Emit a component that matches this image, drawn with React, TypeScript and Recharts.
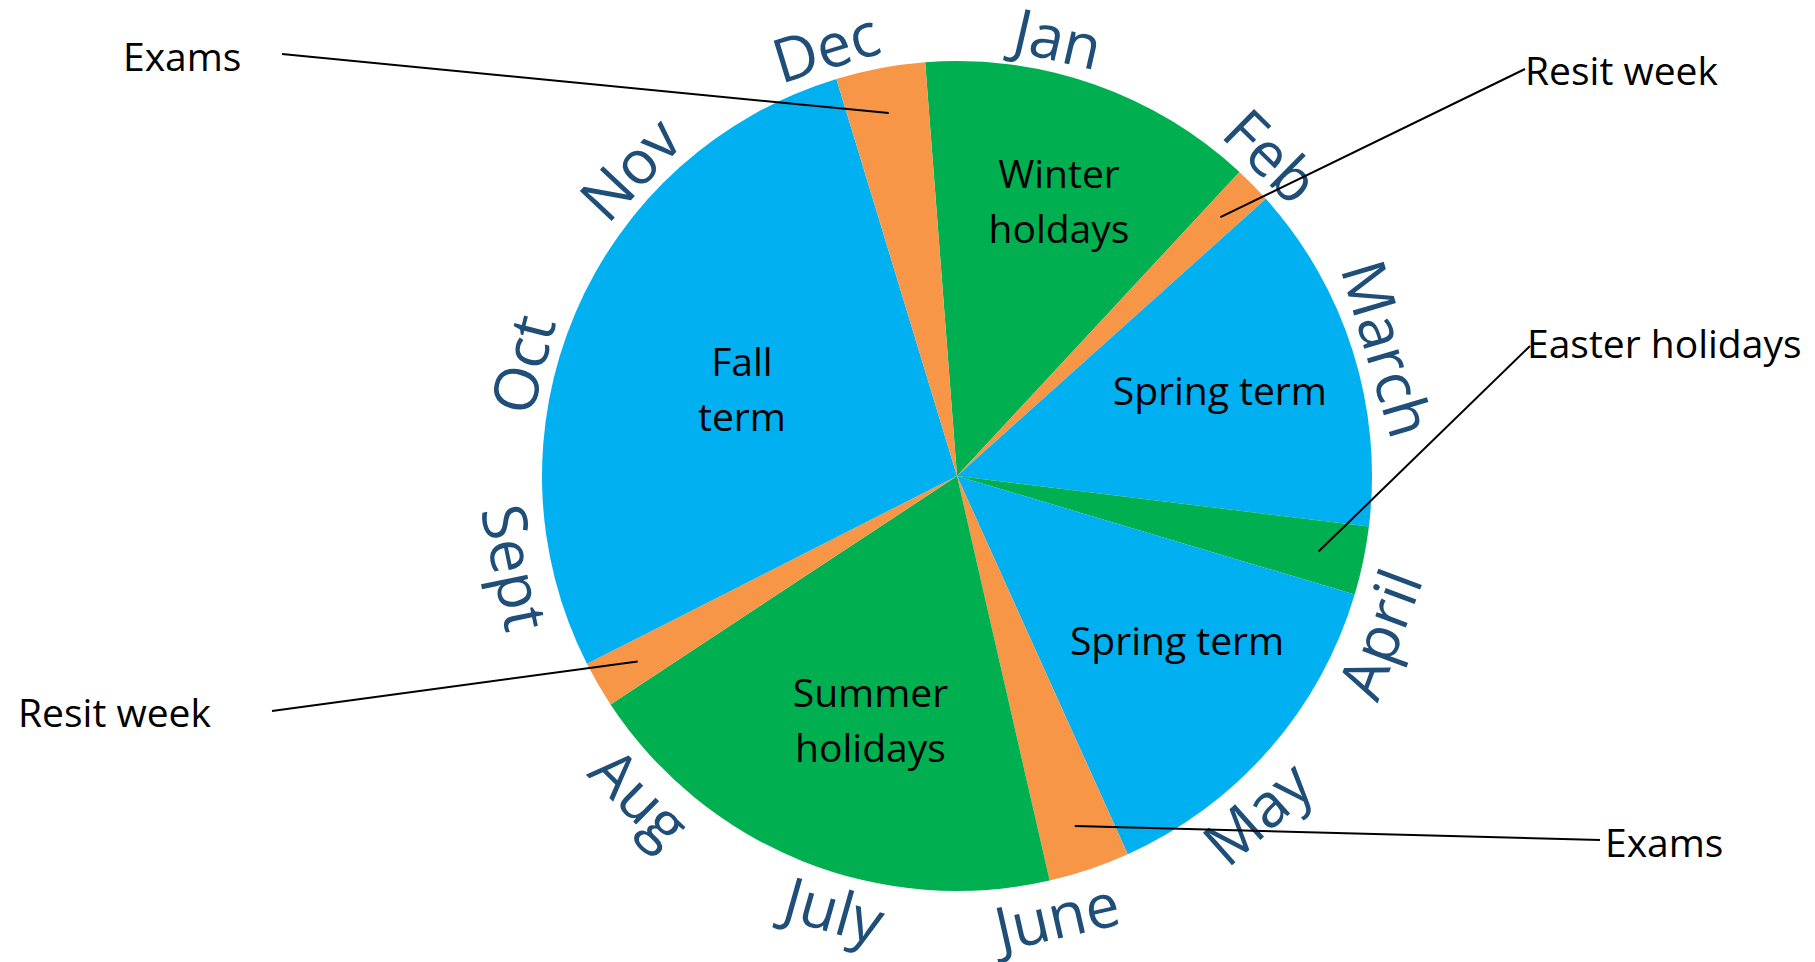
import { PieChart, Pie, Cell } from "recharts";

// academic year segments, clockwise from just left of 12 o'clock (values in degrees of the year)
const segmentNames = [
  "Winter holdays",
  "Resit week",
  "Spring term",
  "Easter holidays",
  "Spring term",
  "Exams",
  "Summer holidays",
  "Resit week",
  "Fall term",
  "Exams",
];
const segmentSpans = [47.3, 5.2, 48.9, 9.6, 49.1, 11.4, 69.5, 6.5, 100, 12.5];
const segmentKinds = ["holiday", "exam", "term", "holiday", "term", "exam", "holiday", "exam", "term", "exam"];

const months = ["Jan", "Feb", "March", "April", "May", "June", "July", "Aug", "Sept", "Oct", "Nov", "Dec"];
// where each month name sits, degrees clockwise from 12 o'clock
const monthAngles = [13, 44.5, 73.5, 110.5, 138.3, 167.2, 195.8, 224.6, 258.3, 284.4, 313.2, 343];

const data = segmentNames.map((name, i) => ({ name, value: segmentSpans[i], kind: segmentKinds[i] }));

const kindColor: Record<string, string> = {
  term: "#00B0F0",
  holiday: "#00B050",
  exam: "#F79646",
};

const CX = 957;
const CY = 476;
const R = 415;
const RADIAN = Math.PI / 180;
const FONT = "'Open Sans', sans-serif";

// labels drawn inside the big slices (r = fraction of radius, da = nudge in degrees clockwise)
const inside: Record<number, { r: number; da: number; lines: string[] }> = {
  0: { r: 0.71, da: 1, lines: ["Winter", "holdays"] },
  2: { r: 0.667, da: -0.8, lines: ["Spring term"] },
  4: { r: 0.66, da: -4.6, lines: ["Spring term"] },
  6: { r: 0.62, da: -2.2, lines: ["Summer", "holidays"] },
  8: { r: 0.56, da: -0.8, lines: ["Fall", "term"] },
};

// callouts for the thin slices: text baseline start and far end of the leader line
const callouts: Record<number, { x: number; y: number; lx: number; ly: number }> = {
  9: { x: 123, y: 71, lx: 282, ly: 54 },
  1: { x: 1525, y: 85, lx: 1525, ly: 69 },
  3: { x: 1527, y: 358, lx: 1530, ly: 346 },
  7: { x: 18, y: 727, lx: 272, ly: 711 },
  5: { x: 1605, y: 857, lx: 1600, ly: 840 },
};

const renderLabel = (props: any) => {
  const { cx, cy, midAngle, outerRadius, index } = props;
  const inner = inside[index];
  if (inner) {
    const r = outerRadius * inner.r;
    const ang = midAngle - inner.da;
    const x = cx + r * Math.cos(-ang * RADIAN);
    const y = cy + r * Math.sin(-ang * RADIAN);
    const lh = 55;
    const top = y - ((inner.lines.length - 1) * lh) / 2;
    return (
      <text x={x} y={top} textAnchor="middle" dominantBaseline="central" fontFamily={FONT} fontSize={39} fill="#000">
        {inner.lines.map((l, k) => (
          <tspan key={k} x={x} y={top + k * lh}>
            {l}
          </tspan>
        ))}
      </text>
    );
  }
  const c = callouts[index];
  if (c) {
    const r = outerRadius * 0.89;
    const x = cx + r * Math.cos(-midAngle * RADIAN);
    const y = cy + r * Math.sin(-midAngle * RADIAN);
    return (
      <g>
        <line x1={x} y1={y} x2={c.lx} y2={c.ly} stroke="#000" strokeWidth={2} />
        <text x={c.x} y={c.y} fontFamily={FONT} fontSize={39} fill="#000">
          {segmentNames[index]}
        </text>
      </g>
    );
  }
  return null;
};

function MonthRing() {
  const rm = 450;
  return (
    <g>
      {months.map((m, i) => {
        const a = monthAngles[i];
        const x = CX + rm * Math.sin(a * RADIAN);
        const y = CY - rm * Math.cos(a * RADIAN);
        const rot = a > 90 && a < 270 ? a - 180 : a > 180 ? a - 360 : a;
        return (
          <text
            key={m}
            x={x}
            y={y}
            transform={`rotate(${rot} ${x} ${y})`}
            textAnchor="middle"
            dominantBaseline="central"
            fontFamily={FONT}
            fontSize={61}
            fill="#1F4E79"
          >
            {m}
          </text>
        );
      })}
    </g>
  );
}

export default function App() {
  return (
    <div style={{ position: "absolute", left: 0, top: 0, width: 1815, height: 962, background: "#fff" }}>
      <PieChart width={1815} height={962} margin={{ top: 0, right: 0, bottom: 0, left: 0 }}>
        <Pie
          data={data}
          dataKey="value"
          cx={CX}
          cy={CY}
          outerRadius={R}
          startAngle={94.4}
          endAngle={-265.6}
          stroke="none"
          labelLine={false}
          label={renderLabel}
          isAnimationActive={false}
        >
          {data.map((d, i) => (
            <Cell key={i} fill={kindColor[d.kind]} />
          ))}
        </Pie>
        <MonthRing />
      </PieChart>
    </div>
  );
}
